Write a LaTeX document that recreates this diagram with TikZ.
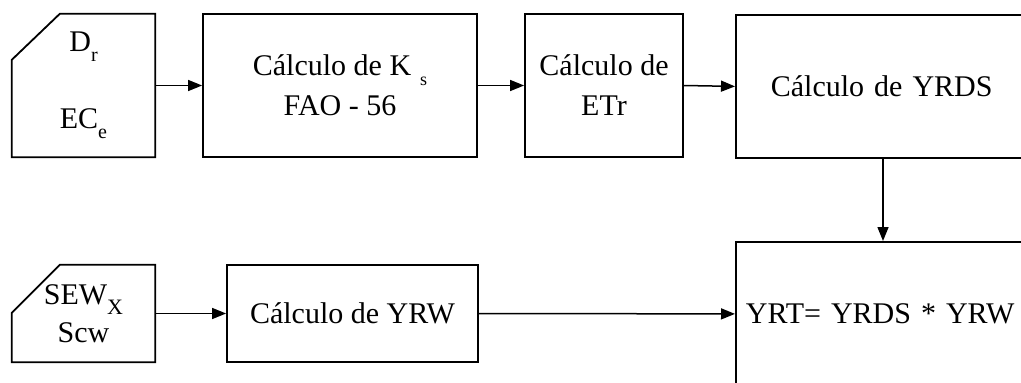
\documentclass[tikz,border=0pt]{standalone}
\usepackage{fontspec}
\setmainfont{Liberation Serif}
\usetikzlibrary{arrows.meta}
\newcommand\lowsub[2][20]{\raisebox{-10pt}{\fontsize{#1}{#1}\selectfont #2}}
\tikzset{
  box/.style={draw, line width=1.8pt, rectangle, inner sep=0pt, align=center,
    font=\fontsize{30}{40}\selectfont},
  card/.style={rectangle, inner sep=0pt, align=center,
    font=\fontsize{30}{38}\selectfont},
  outline/.style={draw, line width=1.8pt, line join=miter},
  conn/.style={line width=1.5pt, -{Triangle[length=14pt,width=11pt]}}
}
\begin{document}
\begin{tikzpicture}[x=1pt,y=-1pt]
\useasboundingbox (0,0) rectangle (1021,383);
\clip (0,0) rectangle (1021,383);
\fill[white] (0,0) rectangle (1021,383);
% top row
\node[card, minimum width=143pt, minimum height=143pt] (dr) at (83.5,85.5)
  {D\lowsub{r}\\[39pt]EC\lowsub{e}};
\draw[outline] ([yshift=-46pt]dr.north west) -- ([xshift=48pt]dr.north west)
  -- (dr.north east) -- (dr.south east) -- (dr.south west) -- cycle;
\node[box, minimum width=274pt, minimum height=143pt] (ks) at (340,85.5)
  {Cálculo de K\hspace{9pt}\lowsub[18]{s}\\FAO - 56};
\node[box, minimum width=158pt, minimum height=143pt] (etr) at (604,85.5)
  {Cálculo de\\ETr};
\node[box, minimum width=400pt, minimum height=143pt, anchor=north west,
  text width=330pt, align=left, inner xsep=35pt] (yrds) at (735,14)
  {Cálculo de YRDS};
% bottom row
\node[card, minimum width=143pt, minimum height=97pt] (sew) at (83.5,313.5)
  {SEW\lowsub[22]{X}\\Scw};
\draw[outline] ([yshift=-48pt]sew.north west) -- ([xshift=48pt]sew.north west)
  -- (sew.north east) -- (sew.south east) -- (sew.south west) -- cycle;
\node[box, minimum width=251pt, minimum height=97pt] (yrw) at (352.5,313.5)
  {Cálculo de YRW};
\node[box, minimum width=400pt, minimum height=144pt, anchor=north west,
  text width=380pt, align=left, inner xsep=8pt] (yrt) at (735,241)
  {YRT= YRDS * YRW};
% connectors
\draw[conn] (dr.east) -- (ks.west);
\draw[conn] (ks.east) -- (etr.west);
\draw[conn] (etr.east) -- (yrds.west);
\draw[conn] ([xshift=148pt]yrds.south west) -- ([xshift=148pt]yrt.north west);
\draw[conn] (sew.east) -- (yrw.west);
\draw[conn] (yrw.east) -- (yrt.west);
\end{tikzpicture}
\end{document}
